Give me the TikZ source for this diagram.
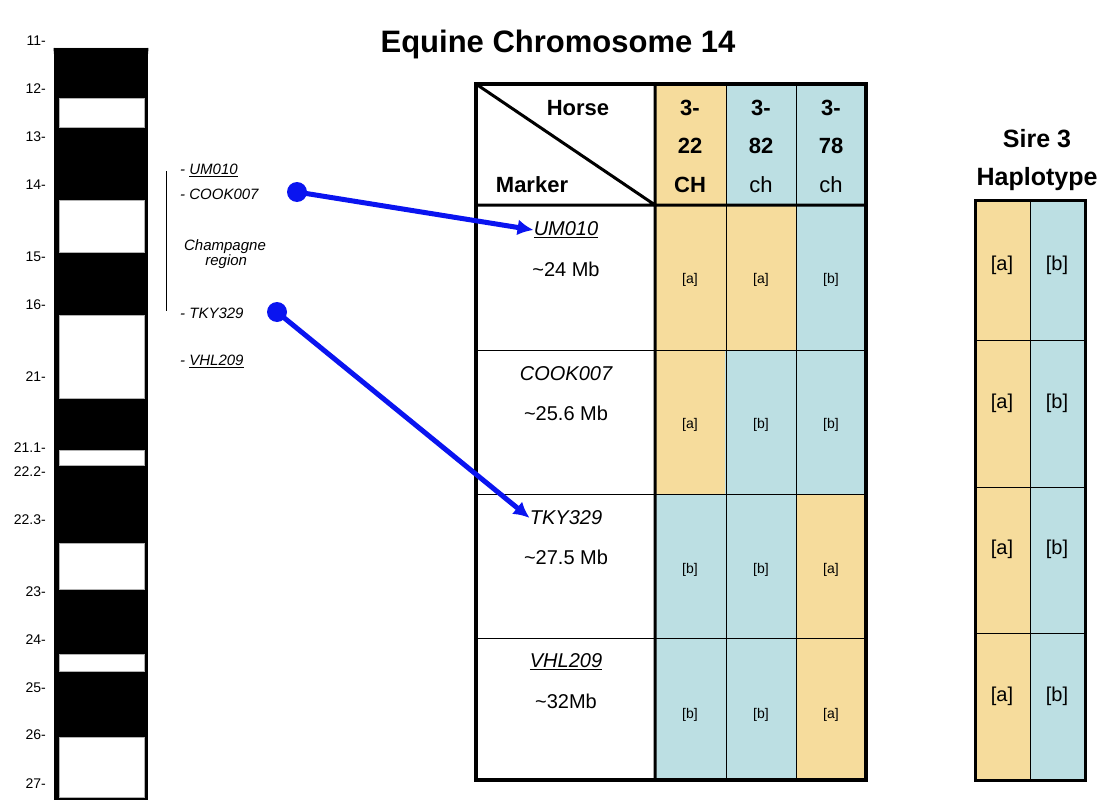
\documentclass[tikz,border=0pt]{standalone}
\usepackage{fontspec}
\setmainfont{Liberation Sans}
\usetikzlibrary{arrows.meta}
\definecolor{orn}{HTML}{F6DC9C}
\definecolor{blu}{HTML}{BCDFE3}
\definecolor{arr}{HTML}{0A14F0}
\begin{document}
\begin{tikzpicture}[x=1pt,y=-1pt,
  band/.style={fill=white,draw=gray!60,line width=0.6pt},
  tick/.style={anchor=east,font=\fontsize{14}{14}\selectfont,inner sep=0pt},
  mk/.style={anchor=west,font=\fontsize{15}{15}\selectfont\itshape,inner sep=0pt},
  hdr/.style={font=\fontsize{22}{22}\selectfont\bfseries,inner sep=0pt},
  cell/.style={font=\fontsize{14}{14}\selectfont,inner sep=0pt},
  big/.style={font=\fontsize{20}{20}\selectfont,inner sep=0pt},
  arrowline/.style={arr,line width=5pt,-{Latex[length=16pt,width=16pt]}},
  dot/.style={circle,fill=arr,minimum size=20pt,inner sep=0pt}]
\useasboundingbox (0,0) rectangle (1117,800);
% chromosome
\fill[gray!75] (54,48) arc[start angle=180,end angle=0,x radius=47,y radius=48] -- cycle;
\draw[line width=0.8pt] (54,48) arc[start angle=180,end angle=0,x radius=47,y radius=48];
\fill[black] (54,48) rectangle (148,800);
\foreach \a/\b in {98/127,200/252,315/398,450/465,543/589,654/671,737/797}
  \draw[band] (59,\a) rectangle (144,\b);
\foreach \t/\y in {11/41,12/89,13/137,14/185,15/257,16/305,21/377,21.1/448,22.2/472,22.3/520,23/592,24/640,25/688,26/735,27/784}
  \node[tick] at (46,\y) {\t-};
% markers
\draw[line width=0.8pt] (166,171) -- (166,311);
\node[mk] (m1) at (180,170) {- \underline{UM010}};
\node[mk] (m2) at (180,194) {- COOK007};
\node[font=\fontsize{15}{15}\selectfont\itshape,align=center] (cr) at (225,254) {Champagne\\\,region};
\node[mk] (m3) at (180,313) {- TKY329};
\node[mk] (m4) at (180,361) {- \underline{VHL209}};
\node[dot] (d1) at (297,192) {};
\node[dot] (d2) at (277,312) {};
% title
\node[font=\fontsize{31}{31}\selectfont\bfseries] (title) at (558,44) {Equine Chromosome 14};
% table fills
\fill[orn] (655,84) rectangle (726,205);
\fill[blu] (726,84) rectangle (866,205);
\foreach \c/\i in {0/0,1/1,2/2,3/3}{}
\def\colx{{655,726,796}}
\foreach \r/\a/\b/\cc in {0/205/350/{orn,orn,blu},1/350/494/{orn,blu,blu},2/494/638/{blu,blu,orn},3/638/780/{blu,blu,orn}}{
  \foreach \col [count=\k from 0] in \cc {
    \pgfmathsetmacro{\xa}{655+\k*70.3}
    \pgfmathsetmacro{\xb}{\xa+70.3}
    \fill[\col] (\xa,\a) rectangle (\xb,\b);
  }
}
\draw[line width=0.8pt] (726,84) -- (726,780) (796,84) -- (796,780);
\draw[line width=0.8pt] (476,350) -- (866,350) (476,494) -- (866,494) (476,638) -- (866,638);
\draw[line width=3pt] (476,205) -- (866,205) (655,84) -- (655,780) (476,84) -- (655,205);
\draw[line width=3.5pt] (476,84) rectangle (866,780);
% header
\node[hdr] at (578,108) {Horse};
\node[hdr] at (532,185) {Marker};
\foreach \x/\n/\s/\w in {690/22/CH/\bfseries,761/82/ch/\mdseries,831/78/ch/\mdseries}{
  \node[hdr] at (\x,108) {3-};
  \node[hdr] at (\x,146) {\n};
  \node[hdr] at (\x,185) {\w \s};
}
% marker cells
\node[big] (u1) at (566,230) {\itshape\underline{UM010}};
\node[big] at (566,269) {\textasciitilde 24 Mb};
\node[big] (u2) at (566,374) {\itshape COOK007};
\node[big] at (566,413) {\textasciitilde 25.6 Mb};
\node[big] (u3) at (566,518) {\itshape TKY329};
\node[big] at (566,557) {\textasciitilde 27.5 Mb};
\node[big] (u4) at (566,662) {\itshape\underline{VHL209}};
\node[big] at (566,701) {\textasciitilde 32Mb};
\foreach \y/\aa/\bb/\ccc in {280/a/a/b,425/a/b/b,570/b/b/a,715/b/b/a}{
  \node[cell] at (690,\y) {[\aa]};
  \node[cell] at (761,\y) {[\bb]};
  \node[cell] at (831,\y) {[\ccc]};
}
% arrows
\draw[arrowline] (d1.center) -- (u1.west);
\draw[arrowline] (d2.center) -- (u3.west);
% haplotype
\node[hdr,font=\fontsize{25}{25}\selectfont\bfseries] at (1037,139) {Sire 3};
\node[hdr,font=\fontsize{25}{25}\selectfont\bfseries] at (1037,179) {Haplotype};
\fill[orn] (975,200) rectangle (1030,780);
\fill[blu] (1030,200) rectangle (1085,780);
\draw[line width=0.8pt] (1030,200) -- (1030,780) (975,340) -- (1085,340) (975,487) -- (1085,487) (975,633) -- (1085,633);
\draw[line width=3pt] (975,200) rectangle (1085,780);
\foreach \y in {265,403,549,696}{
  \node[big] at (1002,\y) {[a]};
  \node[big] at (1057,\y) {[b]};
}
\end{tikzpicture}
\end{document}
